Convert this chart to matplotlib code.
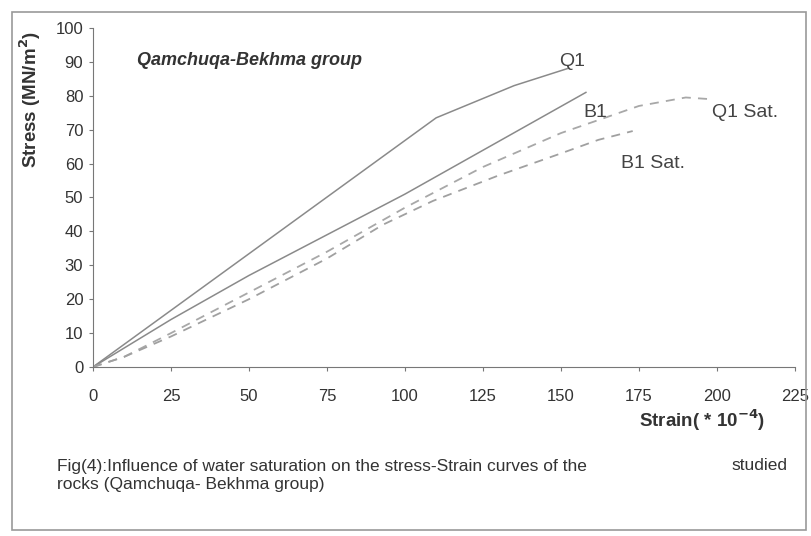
import matplotlib.pyplot as plt
from matplotlib.patches import Rectangle

plt.rcParams['font.family'] = ['Liberation Sans', 'DejaVu Sans']

# --- DATA ---
q1_strain = [0, 110, 135, 152]
q1_stress = [0, 73.5, 83, 88]

b1_strain = [0, 25, 50, 100, 158]
b1_stress = [0, 14, 27, 51, 81]

q1sat_strain = [0, 10, 25, 50, 75, 100, 125, 150, 175, 190, 198]
q1sat_stress = [0, 3, 10, 22, 34, 47, 59, 69, 77, 79.5, 79]

b1sat_strain = [0, 10, 25, 50, 75, 93, 109, 130, 150, 162, 173]
b1sat_stress = [0, 3, 9, 20, 32, 42, 49, 56.5, 63, 67, 69.6]

x_ticks = [0, 25, 50, 75, 100, 125, 150, 175, 200, 225]
y_ticks = [0, 10, 20, 30, 40, 50, 60, 70, 80, 90, 100]

fig = plt.figure(figsize=(8.12, 5.36), dpi=100)
ax = fig.add_axes([0.1145, 0.3153, 0.8645, 0.6325])

col = '#8a8a8a'
ax.plot(q1_strain, q1_stress, color=col, lw=1.1)
ax.plot(b1_strain, b1_stress, color=col, lw=1.1)
ax.plot(q1sat_strain, q1sat_stress, color='#a8a8a8', lw=1.3, ls=(0, (5, 4)))
ax.plot(b1sat_strain, b1sat_stress, color='#a0a0a0', lw=1.3, ls=(0, (5, 4)))

ax.set_xlim(0, 225)
ax.set_ylim(0, 100)
ax.set_xticks(x_ticks)
ax.set_yticks(y_ticks)
ax.tick_params(labelsize=12, length=3, color='#777777', labelcolor='#333333')
ax.tick_params(axis='x', pad=13)
ax.tick_params(axis='y', pad=4)
for s in ['top', 'right']:
    ax.spines[s].set_visible(False)
for s in ['left', 'bottom']:
    ax.spines[s].set_color('#777777')

ax.set_ylabel('Stress (MN/m$^\\mathbf{2}$)', fontsize=13.5, fontweight='bold',
              color='#333333')
ax.yaxis.set_label_coords(-0.071, 0.79)
ax.text(0.957, -0.156, 'Strain( * 10$^{\\mathbf{-4}}$)', transform=ax.transAxes,
        ha='right', va='center', fontsize=13.5, fontweight='bold', color='#333333')

ax.text(14, 90.5, 'Qamchuqa-Bekhma group', fontsize=13, fontweight='bold',
        style='italic', color='#333333', va='center')

lab = dict(fontsize=14, color='#444444', ha='center', va='center')
ax.text(153.5, 90, 'Q1', **lab)
ax.text(161, 75, 'B1', **lab)
ax.text(209, 75, 'Q1 Sat.', **lab)
ax.text(179.5, 60, 'B1 Sat.', **lab)

# caption below the plot
fig.text(57 / 812, 1 - 466 / 536,
         'Fig(4):Influence of water saturation on the stress-Strain curves of the',
         fontsize=12.5, color='#333333', va='center')
fig.text(787 / 812, 1 - 466 / 536, 'studied', fontsize=12.5, color='#333333',
         va='center', ha='right')
fig.text(57 / 812, 1 - 484 / 536, 'rocks (Qamchuqa- Bekhma group)',
         fontsize=12.5, color='#333333', va='center')

fig.patches.append(Rectangle((12 / 812, 6 / 536), 794 / 812, 518 / 536,
                             transform=fig.transFigure, fill=False,
                             edgecolor='#999999', lw=1.2))

fig.savefig('out.png', dpi=100)
